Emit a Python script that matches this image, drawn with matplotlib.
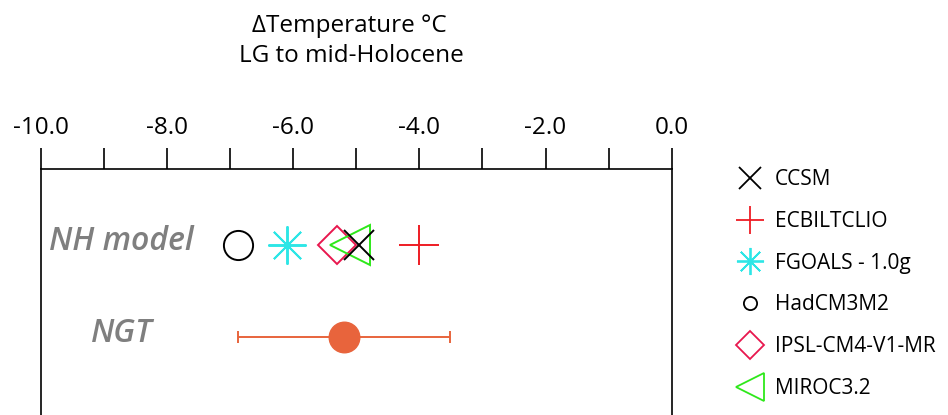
import matplotlib
matplotlib.use("Agg")
import matplotlib.pyplot as plt
from matplotlib.lines import Line2D
from matplotlib.ticker import MultipleLocator, FormatStrFormatter

plt.rcParams["font.family"] = ["Open Sans", "DejaVu Sans"]

# temperature change, last glacial to mid-Holocene (deg C)
models = ["CCSM", "ECBILTCLIO", "FGOALS - 1.0g", "HadCM3M2", "IPSL-CM4-V1-MR", "MIROC3.2"]
nh_dt = [-4.95, -4.0, -6.1, -6.87, -5.3, -5.1]
ngt_dt = -5.2
ngt_err = 1.68
rows = ["NH model", "NGT"]

# marker style per model: (marker, colour, plot size, legend size, draw order)
styles = {
    "CCSM": ("x", "black", 21, 16, 6),
    "ECBILTCLIO": ("+", "#ee1c24", 29, 19.5, 5),
    "FGOALS - 1.0g": ((8, 2, 0), "#2de6e6", 27.5, 19.5, 2),
    "HadCM3M2": ("o", "black", 21, 9.5, 1),
    "IPSL-CM4-V1-MR": ("D", "#e8174e", 19.3, 13.8, 3),
    "MIROC3.2": ("<", "#2ee81a", 29, 19.5, 4),
}

fig = plt.figure(figsize=(9.48, 4.15), dpi=100)
ax = fig.add_axes([40.7 / 948, 0.0, 631.0 / 948, 245.7 / 415])

for name, val in zip(models, nh_dt):
    mk, col, ms, _, z = styles[name]
    ax.plot([val], [1], linestyle="none", marker=mk, ms=ms, mfc="none",
            mec=col, mew=1.4, zorder=z)

ax.errorbar([ngt_dt], [2], xerr=[ngt_err], fmt="o", ms=22, color="#e8643c",
            ecolor="#e8643c", elinewidth=1.4, capsize=4.3, capthick=1.4)

for yy, lab in zip([1, 2], rows):
    ax.text(-8.72, yy - 0.03, lab, ha="center", va="center", fontsize=23,
            style="italic", weight="semibold", color="#7f7f7f")

ax.set_xlim(-10, 0)
ax.set_ylim(2.849, 0.184)
ax.xaxis.set_major_locator(MultipleLocator(2))
ax.xaxis.set_minor_locator(MultipleLocator(1))
ax.xaxis.set_major_formatter(FormatStrFormatter("%.1f"))
ax.xaxis.tick_top()
ax.tick_params(axis="x", which="both", direction="out", length=15, width=1.2,
               pad=6, labelsize=17.5)
ax.set_yticks([])
ax.spines["bottom"].set_visible(False)
for s in ["top", "left", "right"]:
    ax.spines[s].set_linewidth(1.2)

fig.text(0.369, 1 - 26 / 415, "\u0394Temperature \u00b0C", ha="center",
         va="center", fontsize=17.5)
fig.text(0.371, 1 - 56 / 415, "LG to mid-Holocene", ha="center",
         va="center", fontsize=17.5)

handles = []
for name in models:
    mk, col, _, lms, _ = styles[name]
    handles.append(Line2D([], [], linestyle="none", marker=mk, ms=lms,
                          mfc="none", mec=col, mew=1.3))
fig.legend(handles, models, loc="upper left", bbox_to_anchor=(737.5 / 948, 1 - 169 / 415),
           frameon=False, fontsize=15, handlelength=1.2, handletextpad=0.6,
           labelspacing=1.0, borderpad=0, borderaxespad=0)

fig.savefig("out.png", dpi=100)
